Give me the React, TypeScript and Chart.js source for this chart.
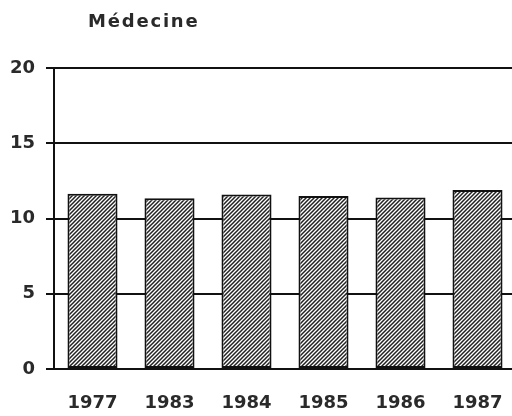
import React, { useEffect, useRef } from "react";
import { Chart, registerables } from "chart.js";

Chart.register(...registerables);

const TITLE = "Médecine";
const YEARS = ["1977", "1983", "1984", "1985", "1986", "1987"];
const VALUES = [11.65, 11.35, 11.6, 11.5, 11.4, 11.9];
const Y_TICKS = [0, 5, 10, 15, 20];

function makeHatch(ctx: CanvasRenderingContext2D): CanvasPattern | string {
  const c = document.createElement("canvas");
  c.width = 4;
  c.height = 4;
  const g = c.getContext("2d");
  if (!g) return "#888";
  g.fillStyle = "#ffffff";
  g.fillRect(0, 0, 4, 4);
  g.strokeStyle = "#222";
  g.lineWidth = 1.5;
  g.beginPath();
  g.moveTo(-1, 5);
  g.lineTo(5, -1);
  g.moveTo(-1, 1);
  g.lineTo(1, -1);
  g.moveTo(3, 5);
  g.lineTo(5, 3);
  g.stroke();
  return ctx.createPattern(c, "repeat") || "#888";
}

export default function App() {
  const ref = useRef<HTMLCanvasElement | null>(null);

  useEffect(() => {
    const canvas = ref.current;
    if (!canvas) return;
    const ctx = canvas.getContext("2d");
    if (!ctx) return;
    const hatch = makeHatch(ctx);

    const titlePlugin = {
      id: "titleText",
      afterDraw(chart: any) {
        const c = chart.ctx;
        c.save();
        c.fillStyle = "#2a2a2a";
        c.font = "bold 18px 'DejaVu Sans'";
        (c as any).letterSpacing = "1.8px";
        c.textBaseline = "middle";
        c.textAlign = "left";
        c.fillText(TITLE, chart.chartArea.left + 34, 22);
        c.restore();
      },
    };

    const chart = new Chart(ctx, {
      type: "bar",
      data: {
        labels: YEARS,
        datasets: [
          {
            data: VALUES,
            backgroundColor: hatch as any,
            borderColor: "#111",
            borderWidth: 2,
            borderSkipped: false,
            categoryPercentage: 1,
            barPercentage: 0.65,
          },
        ],
      },
      plugins: [titlePlugin],
      options: {
        animation: false,
        responsive: false,
        devicePixelRatio: 1,
        layout: { padding: { top: 68, right: 4, left: 0, bottom: 0 } },
        plugins: {
          legend: { display: false },
          tooltip: { enabled: false },
          title: { display: false },
        },
        scales: {
          x: {
            grid: { display: false },
            border: { display: false },
            ticks: {
              color: "#2a2a2a",
              font: { family: "'DejaVu Sans'", size: 18, weight: "bold" },
              padding: 16,
              maxRotation: 0,
            },
            afterFit(scale: any) {
              scale.height = 47;
            },
          },
          y: {
            min: 0,
            max: 20,
            afterBuildTicks(scale: any) {
              scale.ticks = Y_TICKS.map((v) => ({ value: v }));
            },
            grid: {
              color: "#111",
              lineWidth: 2,
              tickLength: 8,
              drawTicks: true,
            },
            border: { display: true, color: "#111", width: 2 },
            ticks: {
              color: "#2a2a2a",
              font: { family: "'DejaVu Sans'", size: 18, weight: "bold" },
              padding: 11,
            },
            afterFit(scale: any) {
              scale.width = 54;
            },
          },
        },
      },
    });
    return () => chart.destroy();
  }, []);

  return (
    <div
      style={{
        position: "fixed",
        left: 0,
        top: 0,
        width: 512,
        height: 416,
        overflow: "hidden",
        background: "#fff",
      }}
    >
      <canvas ref={ref} width={520} height={416} style={{ display: "block" }} />
    </div>
  );
}
